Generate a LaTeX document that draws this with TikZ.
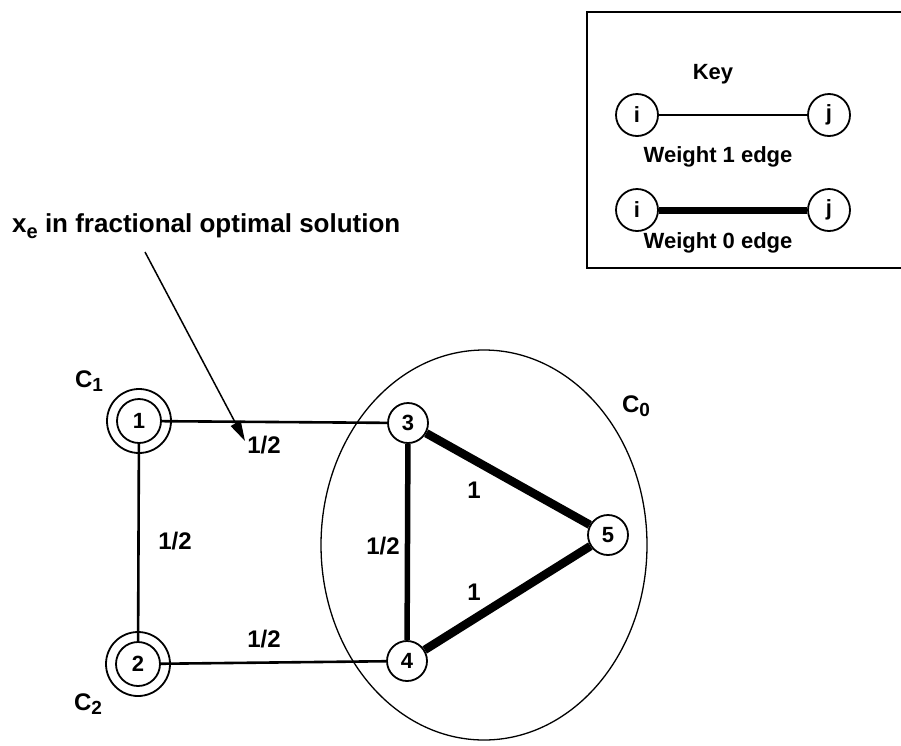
\documentclass[tikz,border=0pt]{standalone}
\usepackage{fontspec}
\setmainfont{Liberation Sans}
\usetikzlibrary{arrows.meta}
\newcommand{\csub}[1]{C\raisebox{-0.35ex}{\fontsize{19}{20}\selectfont\bfseries #1}}
\begin{document}
\begin{tikzpicture}[x=1pt,y=-1pt,
  vtx/.style={circle,draw,line width=1.8pt,minimum size=40pt,inner sep=0pt,fill=white,font=\fontsize{22}{24}\selectfont\bfseries},
  ring/.style={circle,draw,line width=1.8pt,minimum size=64pt,inner sep=0pt},
  lbl/.style={font=\fontsize{24}{26}\selectfont\bfseries,inner sep=0pt},
  keylbl/.style={font=\fontsize{22}{24}\selectfont\bfseries,inner sep=0pt},
  thin edge/.style={line width=2.6pt},
  thick edge/.style={line width=8.5pt}]
\useasboundingbox (0,0) rectangle (901,745);
% key box
\draw[line width=1.5pt] (902,12) -- (587,12) -- (587,268) -- (902,268);
\node[keylbl] (key) at (713,74) {Key};
\node[vtx,minimum size=42pt] (ki1) at (637,115) {i};
\node[vtx,minimum size=42pt] (kj1) at (829,115) {j};
\node[keylbl] (kw1) at (718,157) {Weight 1 edge};
\node[vtx,minimum size=42pt] (ki2) at (637,210) {i};
\node[vtx,minimum size=42pt] (kj2) at (829,210) {j};
\node[keylbl] (kw0) at (718,243) {Weight 0 edge};
\draw[thin edge] (ki1) -- (kj1);
\draw[line width=7pt] (ki2) -- (kj2);
% cluster C0
\draw[line width=1.3pt] (484,545) ellipse [x radius=163, y radius=195];
\node[lbl] (c0) at (636,406) {\csub{0}};
% nodes
\node[ring] (r1) at (139,421) {};
\node[ring] (r2) at (138,664) {};
\node[vtx,minimum size=44pt] (n1) at (139,421) {1};
\node[vtx,minimum size=44pt] (n2) at (138,664) {2};
\node[vtx] (n3) at (408,423) {3};
\node[vtx] (n4) at (407,661) {4};
\node[vtx] (n5) at (608,535) {5};
\node[lbl] (c1) at (89,381) {\csub{1}};
\node[lbl] (c2) at (88,704) {\csub{2}};
% edges
\draw[thin edge] (n1) -- (n3);
\draw[thin edge] (n1) -- (n2);
\draw[thin edge] (n2) -- (n4);
\draw[line width=5.5pt] (n3) -- (n4);
\draw[thick edge] (n3) -- (n5);
\draw[thick edge] (n4) -- (n5);
% labels
\node[lbl] (l13) at (264,445) {1/2};
\node[lbl] (l12) at (175,541) {1/2};
\node[lbl] (l24) at (264,639) {1/2};
\node[lbl] (l34) at (383,546) {1/2};
\node[lbl] (l35) at (474,490) {1};
\node[lbl] (l45) at (474,592) {1};
% annotation
\node[font=\fontsize{26}{28}\selectfont\bfseries,inner sep=0pt,anchor=west] (ann) at (12,226) {x\raisebox{-0.4ex}{\fontsize{20}{20}\selectfont\bfseries e} in fractional optimal solution};
\coordinate (as) at (145,252);
\coordinate (at) at (245,441);
\draw[line width=1.5pt,-{Triangle[length=20pt,width=11pt]}] (as) -- (at);
\end{tikzpicture}
\end{document}
